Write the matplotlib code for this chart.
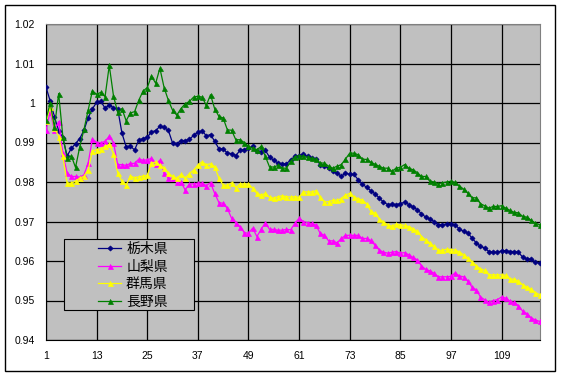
import matplotlib
matplotlib.use('Agg')
import matplotlib.pyplot as plt
from matplotlib.patches import Rectangle

# series values (index 1..118)
tochigi = [
    1.0040, 1.0005, 0.9965, 0.9930, 0.9912, 0.9866, 0.9885, 0.9897, 0.9910, 0.9931,
    0.9963, 0.9985, 1.0002, 1.0004, 0.9987, 0.9995, 0.9988, 0.9985, 0.9924, 0.9889,
    0.9891, 0.9881, 0.9906, 0.9910, 0.9913, 0.9927, 0.9930, 0.9941, 0.9938, 0.9931,
    0.9899, 0.9897, 0.9905, 0.9905, 0.9908, 0.9918, 0.9926, 0.9930, 0.9917, 0.9920,
    0.9903, 0.9884, 0.9884, 0.9873, 0.9872, 0.9867, 0.9880, 0.9882, 0.9886, 0.9890,
    0.9878, 0.9875, 0.9880, 0.9863, 0.9855, 0.9848, 0.9846, 0.9846, 0.9856, 0.9865,
    0.9867, 0.9870, 0.9865, 0.9861, 0.9858, 0.9844, 0.9841, 0.9835, 0.9827, 0.9823,
    0.9814, 0.9823, 0.9819, 0.9819, 0.9806, 0.9794, 0.9787, 0.9778, 0.9770, 0.9760,
    0.9749, 0.9743, 0.9744, 0.9743, 0.9745, 0.9749, 0.9743, 0.9737, 0.9730, 0.9720,
    0.9711, 0.9706, 0.9700, 0.9692, 0.9692, 0.9694, 0.9694, 0.9692, 0.9681, 0.9675,
    0.9671, 0.9658, 0.9646, 0.9637, 0.9633, 0.9624, 0.9622, 0.9622, 0.9626, 0.9626,
    0.9624, 0.9624, 0.9622, 0.9610, 0.9605, 0.9605, 0.9597, 0.9595,
]
yamanashi = [
    0.9932, 0.9978, 0.9931, 0.9953, 0.9873, 0.9823, 0.9814, 0.9814, 0.9812, 0.9818,
    0.9848, 0.9909, 0.9900, 0.9899, 0.9903, 0.9916, 0.9900, 0.9844, 0.9844, 0.9842,
    0.9847, 0.9847, 0.9858, 0.9855, 0.9856, 0.9860, 0.9845, 0.9855, 0.9823, 0.9810,
    0.9809, 0.9799, 0.9800, 0.9780, 0.9795, 0.9795, 0.9797, 0.9797, 0.9791, 0.9798,
    0.9771, 0.9748, 0.9746, 0.9733, 0.9708, 0.9697, 0.9687, 0.9672, 0.9670, 0.9683,
    0.9662, 0.9680, 0.9697, 0.9680, 0.9680, 0.9678, 0.9678, 0.9680, 0.9679, 0.9695,
    0.9708, 0.9700, 0.9697, 0.9695, 0.9691, 0.9670, 0.9665, 0.9651, 0.9651, 0.9646,
    0.9657, 0.9665, 0.9665, 0.9665, 0.9665, 0.9657, 0.9657, 0.9652, 0.9640, 0.9628,
    0.9622, 0.9620, 0.9622, 0.9624, 0.9620, 0.9621, 0.9616, 0.9609, 0.9603, 0.9588,
    0.9579, 0.9575, 0.9569, 0.9560, 0.9560, 0.9560, 0.9561, 0.9570, 0.9562, 0.9560,
    0.9549, 0.9534, 0.9527, 0.9509, 0.9502, 0.9495, 0.9500, 0.9502, 0.9509, 0.9506,
    0.9498, 0.9495, 0.9487, 0.9473, 0.9467, 0.9456, 0.9451, 0.9447,
]
gunma = [
    0.9954, 0.9990, 0.9937, 0.9915, 0.9865, 0.9797, 0.9797, 0.9802, 0.9810, 0.9814,
    0.9831, 0.9878, 0.9882, 0.9884, 0.9890, 0.9895, 0.9872, 0.9823, 0.9802, 0.9792,
    0.9815, 0.9811, 0.9813, 0.9815, 0.9817, 0.9847, 0.9851, 0.9842, 0.9836, 0.9822,
    0.9815, 0.9809, 0.9819, 0.9810, 0.9821, 0.9830, 0.9843, 0.9851, 0.9844, 0.9846,
    0.9839, 0.9809, 0.9792, 0.9792, 0.9798, 0.9786, 0.9795, 0.9795, 0.9795, 0.9784,
    0.9771, 0.9767, 0.9771, 0.9761, 0.9759, 0.9763, 0.9765, 0.9763, 0.9762, 0.9763,
    0.9761, 0.9775, 0.9775, 0.9775, 0.9778, 0.9761, 0.9750, 0.9750, 0.9754, 0.9754,
    0.9758, 0.9767, 0.9771, 0.9762, 0.9758, 0.9754, 0.9745, 0.9726, 0.9721, 0.9706,
    0.9699, 0.9692, 0.9688, 0.9693, 0.9692, 0.9690, 0.9687, 0.9682, 0.9675, 0.9662,
    0.9654, 0.9645, 0.9637, 0.9627, 0.9627, 0.9630, 0.9629, 0.9628, 0.9623, 0.9616,
    0.9608, 0.9597, 0.9588, 0.9580, 0.9576, 0.9565, 0.9565, 0.9565, 0.9565, 0.9564,
    0.9554, 0.9554, 0.9549, 0.9540, 0.9534, 0.9529, 0.9520, 0.9515,
]
nagano = [
    0.9958, 1.0000, 0.9938, 1.0024, 0.9914, 0.9862, 0.9866, 0.9837, 0.9889, 0.9933,
    0.9982, 1.0031, 1.0022, 1.0027, 1.0016, 1.0095, 1.0018, 0.9976, 0.9986, 0.9955,
    0.9975, 0.9978, 1.0007, 1.0030, 1.0039, 1.0068, 1.0050, 1.0088, 1.0039, 1.0007,
    0.9982, 0.9969, 0.9986, 0.9998, 1.0004, 1.0015, 1.0017, 1.0015, 0.9994, 1.0021,
    0.9985, 0.9966, 0.9962, 0.9932, 0.9931, 0.9907, 0.9907, 0.9900, 0.9890, 0.9886,
    0.9882, 0.9890, 0.9865, 0.9838, 0.9838, 0.9842, 0.9835, 0.9835, 0.9852, 0.9864,
    0.9867, 0.9865, 0.9863, 0.9860, 0.9858, 0.9848, 0.9848, 0.9840, 0.9835, 0.9840,
    0.9844, 0.9858, 0.9873, 0.9873, 0.9869, 0.9858, 0.9857, 0.9850, 0.9845, 0.9840,
    0.9835, 0.9835, 0.9827, 0.9835, 0.9837, 0.9844, 0.9835, 0.9831, 0.9824, 0.9814,
    0.9814, 0.9802, 0.9800, 0.9796, 0.9798, 0.9800, 0.9802, 0.9799, 0.9790, 0.9782,
    0.9772, 0.9760, 0.9760, 0.9745, 0.9740, 0.9734, 0.9738, 0.9738, 0.9740, 0.9734,
    0.9728, 0.9723, 0.9722, 0.9713, 0.9711, 0.9703, 0.9696, 0.9692,
]
labels = ['栃木県', '山梨県', '群馬県', '長野県']
x_ticks = [1, 13, 25, 37, 49, 61, 73, 85, 97, 109]
y_ticks = [0.94, 0.95, 0.96, 0.97, 0.98, 0.99, 1.00, 1.01, 1.02]
y_tick_labels = ['0.94', '0.95', '0.96', '0.97', '0.98', '0.99', '1', '1.01', '1.02']

plt.rcParams['font.family'] = ['Liberation Sans', 'Noto Sans CJK JP', 'DejaVu Sans']

fig = plt.figure(figsize=(5.62, 3.77), dpi=100)
fig.patch.set_facecolor('white')
fig.patches.append(Rectangle((5 / 562, 1 - 371 / 377), 550 / 562, 366 / 377,
                             transform=fig.transFigure, fill=False,
                             edgecolor='black', linewidth=1.0))

ax = fig.add_axes([46 / 562, 1 - 340 / 377, 493.5 / 562, 316 / 377])
ax.set_facecolor('#C0C0C0')

x = list(range(1, len(tochigi) + 1))
styles = [
    (tochigi, '#000080', 'D', 2.6),
    (yamanashi, '#FF00FF', '^', 3.6),
    (gunma, '#FFFF00', '^', 3.6),
    (nagano, '#008000', '^', 3.6),
]
for (vals, color, mk, ms), lab in zip(styles, labels):
    ax.plot(x, vals, color=color, marker=mk, markersize=ms, linewidth=0.9,
            markeredgewidth=0.5, label=lab, zorder=3)

ax.set_xlim(1, len(tochigi))
ax.set_ylim(0.94, 1.02)
ax.set_xticks(x_ticks)
ax.set_xticklabels([str(t) for t in x_ticks])
ax.set_yticks(y_ticks)
ax.set_yticklabels(y_tick_labels)
ax.tick_params(length=0, labelsize=7.5, colors='black')
ax.tick_params(axis='y', pad=8)
ax.tick_params(axis='x', pad=8)
ax.grid(True, color='black', linewidth=0.9)
ax.set_axisbelow(True)
for side in ['top', 'right']:
    ax.spines[side].set_color('#808080')
for side in ['left', 'bottom']:
    ax.spines[side].set_color('black')

# legend box drawn separately, frameless legend placed inside
to_ax = lambda px, py: ((px - 46) / 493.5, (340 - py) / 316)
bx, by = to_ax(64, 310)
ax.add_patch(Rectangle((bx, by), 130 / 493.5, 71 / 316, transform=ax.transAxes,
                       facecolor='#C0C0C0', edgecolor='black', linewidth=0.8,
                       zorder=5))
lx, ly = to_ax(98, 242)
leg = ax.legend(loc='upper left', bbox_to_anchor=(lx, ly), frameon=False,
                borderaxespad=0, borderpad=0, handlelength=1.66,
                handletextpad=0.36, labelspacing=0.26,
                prop={'family': ['Noto Sans CJK JP'], 'size': 10})
leg.set_zorder(6)

fig.savefig('out.png', dpi=100)
